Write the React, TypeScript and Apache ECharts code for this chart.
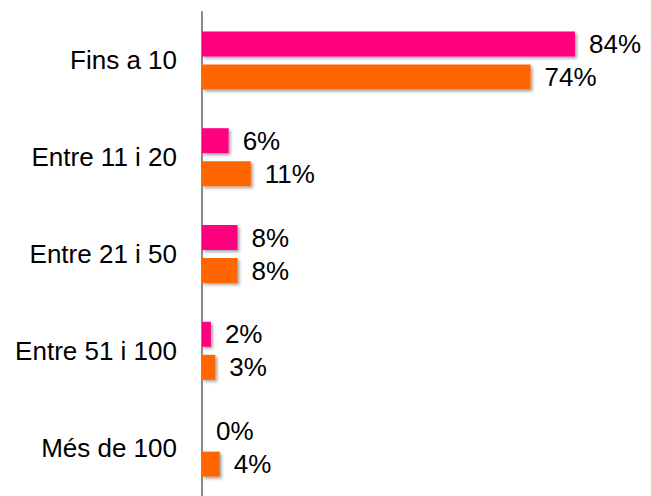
import React, { useEffect, useRef } from "react";
import * as echarts from "echarts";

const categories = ["Fins a 10", "Entre 11 i 20", "Entre 21 i 50", "Entre 51 i 100", "Més de 100"];
const pinkValues = [84, 6, 8, 2, 0];
const orangeValues = [74, 11, 8, 3, 4];

export default function App() {
  const ref = useRef<HTMLDivElement>(null);
  useEffect(() => {
    const chart = echarts.init(ref.current!, null, { renderer: "svg" });
    const font = "Liberation Sans, Arial, sans-serif";
    const shadow = {
      shadowColor: "rgba(0,0,0,0.35)",
      shadowBlur: 3,
      shadowOffsetX: 2,
      shadowOffsetY: 2,
    };
    const label = {
      show: true,
      position: "right" as const,
      distance: 14,
      formatter: "{c}%",
      color: "#000",
      fontSize: 26,
      fontFamily: font,
    };
    chart.setOption({
      animation: false,
      backgroundColor: "#fff",
      grid: { left: 202, top: 12, width: 444, height: 490, containLabel: false },
      xAxis: {
        type: "value",
        min: 0,
        max: 100,
        show: false,
      },
      yAxis: {
        type: "category",
        inverse: true,
        data: categories,
        axisLine: { show: true, lineStyle: { color: "#8a8a8a", width: 2 } },
        axisTick: { show: false },
        axisLabel: { color: "#000", fontSize: 26, fontFamily: font, margin: 25 },
        splitLine: { show: false },
      },
      series: [
        {
          type: "bar",
          data: pinkValues,
          barWidth: 25,
          barGap: "32%",
          itemStyle: { color: "#FF0080", ...shadow },
          label,
        },
        {
          type: "bar",
          data: orangeValues,
          barWidth: 25,
          itemStyle: { color: "#FF6600", ...shadow },
          label,
        },
      ],
    });
    return () => chart.dispose();
  }, []);
  return (
    <div
      ref={ref}
      style={{ position: "fixed", left: 0, top: 0, width: 651, height: 496 }}
    />
  );
}
